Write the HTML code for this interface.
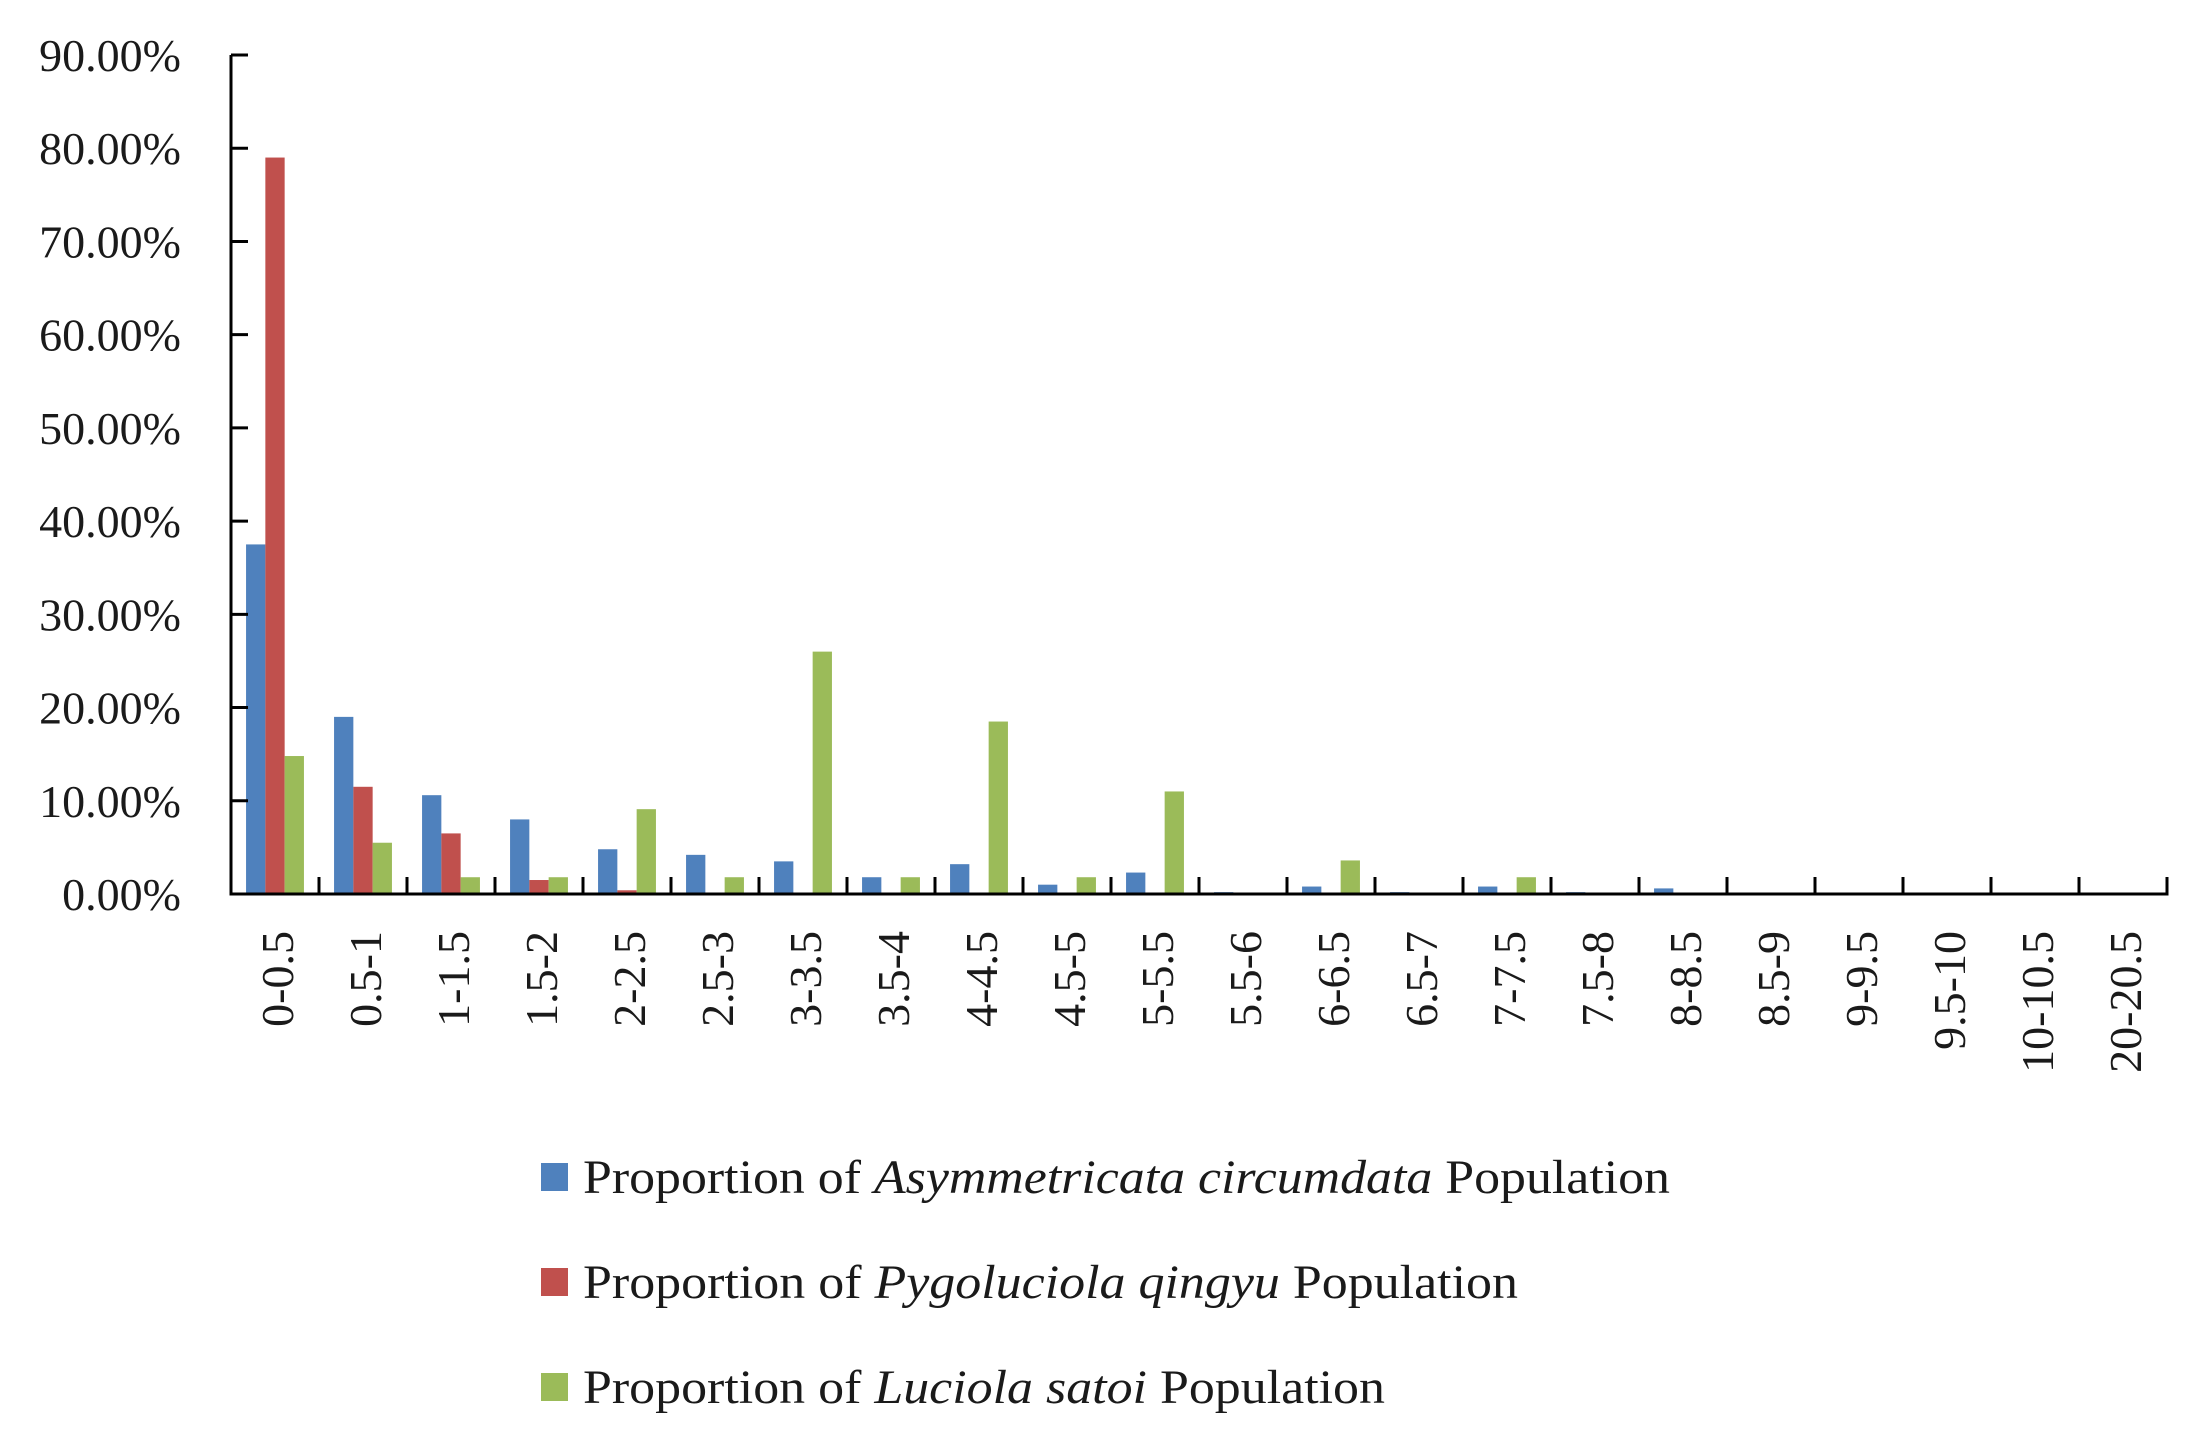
<!DOCTYPE html>
<html><head><meta charset="utf-8"><style>
html,body{margin:0;padding:0;background:#fff;}
svg{display:block;}
text{font-family:"Liberation Serif",serif;fill:#1a1a1a;}
</style></head><body>
<svg id="chart" width="2197" height="1451" viewBox="0 0 2197 1451" xmlns="http://www.w3.org/2000/svg">
<g id="bars"></g>
<g id="axes"></g>
<g id="legend">
  <rect x="541" y="1163" width="27" height="28" fill="#4F81BD"/>
  <text x="583" y="1193" font-size="48" textLength="1087" lengthAdjust="spacingAndGlyphs">Proportion of <tspan font-style="italic">Asymmetricata circumdata</tspan> Population</text>
  <rect x="541" y="1268" width="27" height="28" fill="#C0504D"/>
  <text x="583" y="1298" font-size="48" textLength="935" lengthAdjust="spacingAndGlyphs">Proportion of <tspan font-style="italic">Pygoluciola qingyu</tspan> Population</text>
  <rect x="541" y="1373" width="27" height="28" fill="#9BBB59"/>
  <text x="583" y="1403" font-size="48" textLength="802" lengthAdjust="spacingAndGlyphs">Proportion of <tspan font-style="italic">Luciola satoi</tspan> Population</text>
</g>
</svg>
<script>
const categories = ["0-0.5","0.5-1","1-1.5","1.5-2","2-2.5","2.5-3","3-3.5","3.5-4","4-4.5","4.5-5","5-5.5","5.5-6","6-6.5","6.5-7","7-7.5","7.5-8","8-8.5","8.5-9","9-9.5","9.5-10","10-10.5","20-20.5"];
const asymmetricata = [37.5,19,10.6,8,4.8,4.2,3.5,1.8,3.2,1.0,2.3,0.2,0.8,0.2,0.8,0.2,0.6,0,0,0,0,0];
const pygoluciola = [79,11.5,6.5,1.5,0.4,0,0,0,0,0,0,0,0,0,0,0,0,0,0,0,0,0];
const luciola = [14.8,5.5,1.8,1.8,9.1,1.8,26,1.8,18.5,1.8,11,0,3.6,0,1.8,0,0,0,0,0,0,0];
const yTicks = [0,10,20,30,40,50,60,70,80,90];
const yTickLabels = ["0.00%","10.00%","20.00%","30.00%","40.00%","50.00%","60.00%","70.00%","80.00%","90.00%"];

const NS = "http://www.w3.org/2000/svg";
const X0 = 231, X1 = 2167, Y0 = 894, YTOP = 55, YMAX = 90;
const bandW = (X1 - X0) / categories.length;
const barW = 19.3;
function yScale(v){ return Y0 - (v / YMAX) * (Y0 - YTOP); }
function xBand(i){ return X0 + i * bandW; }
function mk(tag, attrs, parent){
  const e = document.createElementNS(NS, tag);
  for (const k in attrs) e.setAttribute(k, attrs[k]);
  parent.appendChild(e);
  return e;
}
const barsG = document.getElementById('bars');
const axesG = document.getElementById('axes');
const series = [
  {vals: asymmetricata, color: "#4F81BD", name: "asymmetricata"},
  {vals: pygoluciola, color: "#C0504D", name: "pygoluciola"},
  {vals: luciola, color: "#9BBB59", name: "luciola"}
];
categories.forEach((c, i) => {
  const cx = xBand(i) + bandW / 2;
  series.forEach((s, j) => {
    const v = s.vals[i];
    if (v <= 0) return;
    const x = cx - 1.5 * barW + j * barW;
    const y = yScale(v);
    const r = mk('rect', {x: x, y: y, width: barW, height: Y0 - y, fill: s.color}, barsG);
    
    
  });
});
// y axis
let l = mk('line', {x1: X0, y1: YTOP, x2: X0, y2: Y0 + 1.5, stroke: '#000', 'stroke-width': 3}, axesG);


yTicks.forEach((t, k) => {
  const y = yScale(t);
  const tk = mk('line', {x1: X0, y1: y, x2: X0 + 17, y2: y, stroke: '#000', 'stroke-width': 3}, axesG);
  
  
  const tx = mk('text', {x: 181, y: y + 16, 'font-size': 46, 'text-anchor': 'end'}, axesG);
  tx.textContent = yTickLabels[k];
  
  
});
// x axis
l = mk('line', {x1: X0 - 1.5, y1: Y0, x2: X1 + 1.5, y2: Y0, stroke: '#000', 'stroke-width': 3}, axesG);


for (let i = 1; i <= categories.length; i++) {
  const x = xBand(i);
  const tk = mk('line', {x1: x, y1: Y0, x2: x, y2: Y0 - 17, stroke: '#000', 'stroke-width': 3}, axesG);
  
  
}
categories.forEach((c, i) => {
  const cx = xBand(i) + bandW / 2 + 18;
  const tx = mk('text', {x: 0, y: 0, 'font-size': 46, 'text-anchor': 'end', transform: 'translate(' + cx + ',931) rotate(-90)'}, axesG);
  tx.textContent = c;
  
  
});
</script>
</body></html>
